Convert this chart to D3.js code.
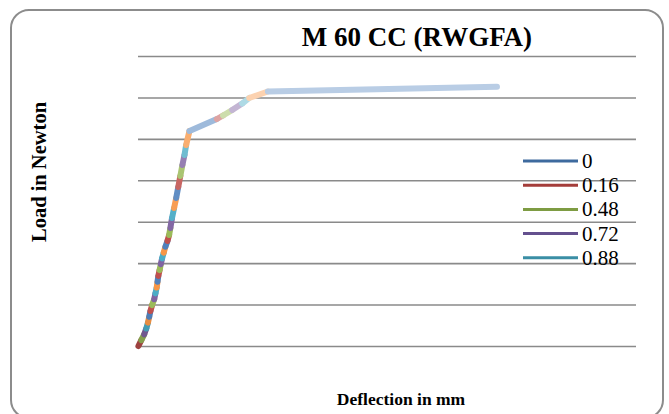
<!DOCTYPE html>
<html>
<head>
<meta charset="utf-8">
<script src="https://cdn.jsdelivr.net/npm/d3@7"></script>
<style>
  html, body { margin: 0; padding: 0; background: #ffffff; }
  svg { display: block; }
</style>
</head>
<body>
<svg id="chart" width="669" height="414"></svg>
<script>
// Load–deflection record, M 60 CC (RWGFA)
const deflection = [0.01, 0.08, 0.15, 0.20, 0.24, 0.27, 0.30, 0.34, 0.39, 0.42,
                    0.45, 0.47, 0.49, 0.52, 0.55, 0.58, 0.62, 0.66, 0.71, 0.75,
                    0.78, 0.82, 0.87, 0.92, 0.97, 1.02, 1.07, 1.12, 1.16, 1.24,
                    1.90, 2.05, 2.27, 2.51, 2.68, 3.13, 8.65];
const load = [0.00, 1.40, 2.82, 4.22, 5.65, 7.05, 8.45, 9.87, 11.27, 12.70,
              14.10, 15.50, 16.92, 18.32, 19.74, 21.14, 22.54, 23.97, 25.37, 26.79,
              28.48, 30.90, 33.31, 35.72, 38.38, 41.03, 43.69, 46.10, 48.52, 51.90,
              54.79, 55.64, 56.97, 58.53, 59.86, 61.43, 62.59];
const yTicks = [0, 10, 20, 30, 40, 50, 60, 70];
const legendLabels = ["0", "0.16", "0.48", "0.72", "0.88"];

const palette = ["#4F81BD", "#C0504D", "#9BBB59", "#8064A2", "#4BACC6", "#F79646"];
const legendColors = ["#3E6A9E", "#A43D3A", "#7E9C43", "#64508E", "#3A8EA5"];

const FONT = "'Liberation Serif', 'Times New Roman', Times, serif";
const svg = d3.select("#chart");

// outer frame
svg.append("rect")
  .attr("x", 11).attr("y", 10)
  .attr("width", 652).attr("height", 408)
  .attr("rx", 18).attr("ry", 18)
  .attr("fill", "#fff")
  .attr("stroke", "#8c8c8c").attr("stroke-width", 2);

const plot = { left: 138, right: 636, top: 56, bottom: 346 };

const x = d3.scaleLinear().domain([0, 12]).range([plot.left, plot.right]);
const y = d3.scaleLinear().domain([0, 70]).range([plot.bottom, plot.top]);

// horizontal gridlines
const grid = svg.append("g")
  .attr("transform", `translate(${plot.left},0)`)
  .call(d3.axisLeft(y).tickValues(yTicks)
          .tickSize(-(plot.right - plot.left)).tickFormat(""));
grid.select(".domain").remove();
grid.selectAll(".tick line").attr("stroke", "#8a8a8a").attr("stroke-width", 1.6);

// curve drawn as a chain of coloured pieces; tones lighten toward the yield plateau
const pts = deflection.map((d, i) => [d, load[i]]);
const nSeg = pts.length - 1;
function segColor(i) {
  const base = palette[(i + 1) % palette.length];
  if (i < 6) return d3.interpolateRgb(base, "#000")(0.18 - i * 0.03);
  if (i < 20) return base;
  if (i < 29) return d3.interpolateRgb(base, "#fff")((i - 19) * 0.025);
  return d3.interpolateRgb(base, "#fff")(0.45 + (i - 29) * 0.025);
}
const segs = d3.range(nSeg).map(i => ({ a: pts[i], b: pts[i + 1], i }));
svg.append("g").selectAll("line")
  .data(segs)
  .join("line")
  .attr("x1", d => x(d.a[0])).attr("y1", d => y(d.a[1]))
  .attr("x2", d => x(d.b[0])).attr("y2", d => y(d.b[1]))
  .attr("stroke", d => segColor(d.i))
  .attr("stroke-width", 6)
  .attr("stroke-linecap", "round");

// title and axis titles
svg.append("text")
  .attr("x", 417).attr("y", 46)
  .attr("text-anchor", "middle")
  .attr("font-family", FONT)
  .attr("font-size", 27).attr("font-weight", "bold")
  .text("M 60 CC (RWGFA)");

svg.append("text")
  .attr("x", 401).attr("y", 405)
  .attr("text-anchor", "middle")
  .attr("font-family", FONT)
  .attr("font-size", 17.5).attr("font-weight", "bold")
  .text("Deflection in mm");

svg.append("text")
  .attr("transform", "translate(46,172) rotate(-90)")
  .attr("text-anchor", "middle")
  .attr("font-family", FONT)
  .attr("font-size", 20.5).attr("font-weight", "bold")
  .text("Load in Newton");

// legend
const legend = svg.append("g").attr("transform", "translate(523,161)");
const rows = legend.selectAll("g")
  .data(legendLabels)
  .join("g")
  .attr("transform", (d, i) => `translate(0,${i * 24.2})`);
rows.append("line")
  .attr("x1", 0).attr("x2", 55).attr("y1", 0).attr("y2", 0)
  .attr("stroke", (d, i) => legendColors[i])
  .attr("stroke-width", 3);
rows.append("text")
  .attr("x", 59).attr("y", 7)
  .attr("font-family", FONT)
  .attr("font-size", 21)
  .text(d => d);
</script>
</body>
</html>
